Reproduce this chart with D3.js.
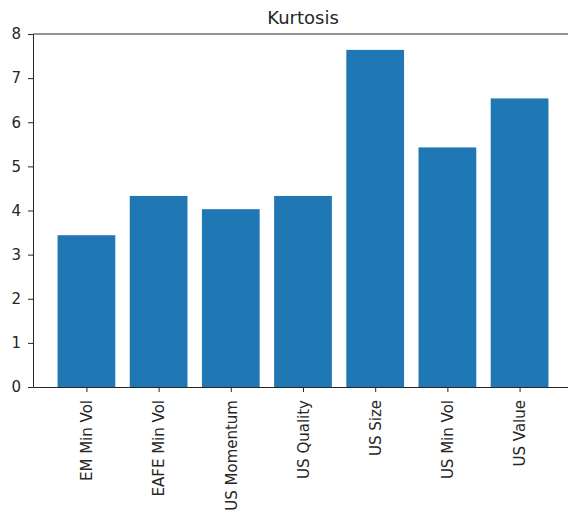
<!DOCTYPE html>
<html>
<head>
<meta charset="utf-8">
<script src="https://cdn.jsdelivr.net/npm/d3@7"></script>
<style>
  body { margin: 0; background: #fff; }
  text { font-family: "DejaVu Sans", sans-serif; fill: #262626; }
  .axis path, .axis line { stroke: #262626; }
</style>
</head>
<body>
<script>
const categories = ["EM Min Vol", "EAFE Min Vol", "US Momentum", "US Quality", "US Size", "US Min Vol", "US Value"]
const kurtosis = [3.44, 4.33, 4.03, 4.33, 7.64, 5.43, 6.54]
const yTicks = [0, 1, 2, 3, 4, 5, 6, 7, 8]

const width = 568
const height = 525
const padLeft = 33, padRight = 573, padTop = 34, padBottom = 387

const svg = d3.select("body").append("svg")
  .attr("width", width)
  .attr("height", height)

// bars sit on integer positions, like matplotlib's xlim of -0.74..6.74
const x = d3.scaleLinear()
  .domain([-0.74, categories.length - 1 + 0.74])
  .range([padLeft, padRight])

const y = d3.scaleLinear()
  .domain([0, 8])
  .range([padBottom, padTop])

const barW = x(0.4) - x(-0.4)

svg.selectAll("rect.bar")
  .data(kurtosis)
  .enter()
  .append("rect")
  .attr("class", "bar")
  .attr("x", (d, i) => x(i) - barW / 2)
  .attr("y", d => y(d))
  .attr("width", barW)
  .attr("height", d => y(0) - y(d))
  .style("fill", "#1f77b4")

const yAxis = d3.axisLeft(y)
  .tickValues(yTicks)
  .tickFormat(d3.format("d"))
  .tickSize(5)
  .tickPadding(7)
  .tickSizeOuter(0)

const xAxis = d3.axisBottom(x)
  .tickValues(d3.range(categories.length))
  .tickFormat(i => categories[i])
  .tickSize(5)
  .tickSizeOuter(0)

const gY = svg.append("g")
  .attr("class", "axis")
  .attr("transform", "translate(" + padLeft + ",0)")
  .call(yAxis)
gY.selectAll("text").style("font-size", "15px")

const gX = svg.append("g")
  .attr("class", "axis")
  .attr("transform", "translate(0," + padBottom + ")")
  .call(xAxis)
gX.selectAll("text")
  .style("font-size", "15px")
  .attr("transform", "rotate(-90)")
  .attr("x", -13)
  .attr("y", 0)
  .attr("dy", "0.35em")
  .style("text-anchor", "end")

// top and right spines
svg.append("line")
  .attr("x1", padLeft).attr("x2", padRight)
  .attr("y1", padTop).attr("y2", padTop)
  .attr("stroke", "#262626")
svg.append("line")
  .attr("x1", padRight).attr("x2", padRight)
  .attr("y1", padTop).attr("y2", padBottom)
  .attr("stroke", "#262626")

svg.append("text")
  .attr("x", (padLeft + padRight) / 2)
  .attr("y", 23.5)
  .attr("text-anchor", "middle")
  .style("font-size", "18px")
  .text("Kurtosis")
</script>
</body>
</html>
